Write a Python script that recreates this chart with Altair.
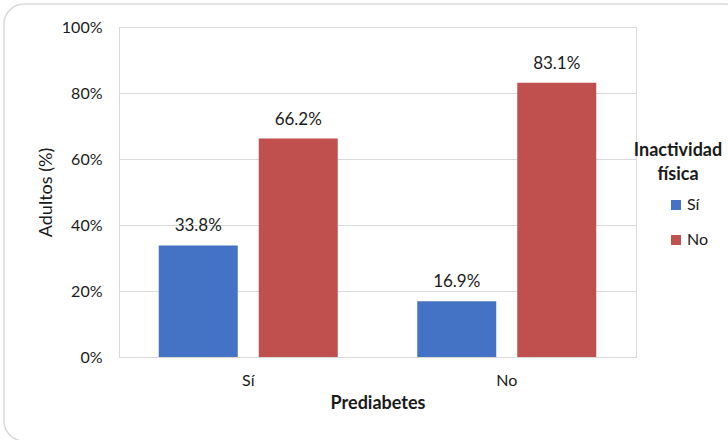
import altair as alt
import pandas as pd

prediabetes = ["Sí", "Sí", "No", "No"]
inactividad = ["Sí", "No", "Sí", "No"]
valores = [33.8, 66.2, 16.9, 83.1]
legend_title = "Inactividad\nfísica"

df = pd.DataFrame({"Prediabetes": prediabetes, "Inactividad": inactividad, "Valor": valores})

FONT = "Lato"
TXT = "#1a1a1a"
GRID = "#d9d9d9"

x = alt.X("Prediabetes:N", sort=["Sí", "No"],
          scale=alt.Scale(paddingInner=0, paddingOuter=0),
          axis=alt.Axis(title="Prediabetes", labelAngle=0, ticks=False, labelPadding=15,
                        domainColor=GRID, titleFontWeight="bold", titleBaseline="alphabetic",
                        titleY=51, labelFontSize=16, titleFontSize=18))
xoff = alt.XOffset("Inactividad:N", sort=["Sí", "No"],
                   scale=alt.Scale(paddingInner=0.21, paddingOuter=0.3975))
y = alt.Y("Valor:Q", scale=alt.Scale(domain=[0, 100], nice=False),
          axis=alt.Axis(title="Adultos (%)", values=[0, 20, 40, 60, 80, 100],
                        labelExpr="datum.value + '%'", ticks=False, labelPadding=17,
                        domain=False, gridColor=GRID, titleFontWeight="normal",
                        titleX=-73, titleBaseline="middle", labelFontSize=16, titleFontSize=18))
color = alt.Color("Inactividad:N", sort=["Sí", "No"],
                  scale=alt.Scale(domain=["Sí", "No"], range=["#4472C4", "#C0504D"]),
                  legend=alt.Legend(title=None, orient="none",
                                    legendX=549, legendY=170, padding=0,
                                    labelFontSize=16, symbolType="square", symbolSize=100,
                                    symbolStrokeWidth=0, rowPadding=19, labelOffset=3))

bars = alt.Chart(df).mark_bar().encode(x=x, xOffset=xoff, y=y, color=color)
labels = alt.Chart(df).transform_calculate(
    lbl="format(datum.Valor, '.1f') + '%'"
).mark_text(baseline="alphabetic", dy=-14, fontSize=17, font=FONT, color=TXT).encode(
    x=alt.X("Prediabetes:N", sort=["Sí", "No"]),
    xOffset=alt.XOffset("Inactividad:N", sort=["Sí", "No"]),
    y="Valor:Q", text="lbl:N")

ltitle = alt.Chart(pd.DataFrame({"t": [legend_title]})).mark_text(
    align="center", baseline="alphabetic", lineBreak="\n", lineHeight=24,
    fontSize=18, fontWeight="bold", font=FONT, color=TXT
).encode(text="t:N", x=alt.value(559), y=alt.value(129))

border = alt.Chart(pd.DataFrame({"k": [0]})).mark_rect(
    fill=None, stroke="#d9d9d9", strokeWidth=1.5, cornerRadius=20, clip=False
).encode(x=alt.value(-115), x2=alt.value(626), y=alt.value(-23), y2=alt.value(414))

chart = alt.layer(border, bars, labels, ltitle).properties(
    width=517, height=330,
    autosize=alt.AutoSizeParams(type="none"),
    padding={"left": 119, "top": 27, "right": 92, "bottom": 83},
).configure(font=FONT).configure_axis(
    labelColor=TXT, titleColor=TXT, labelFont=FONT, titleFont=FONT
).configure_legend(labelColor=TXT, labelFont=FONT
).configure_view(stroke=GRID)

chart.save("out.html", embed_options={"renderer": "svg", "actions": False})
